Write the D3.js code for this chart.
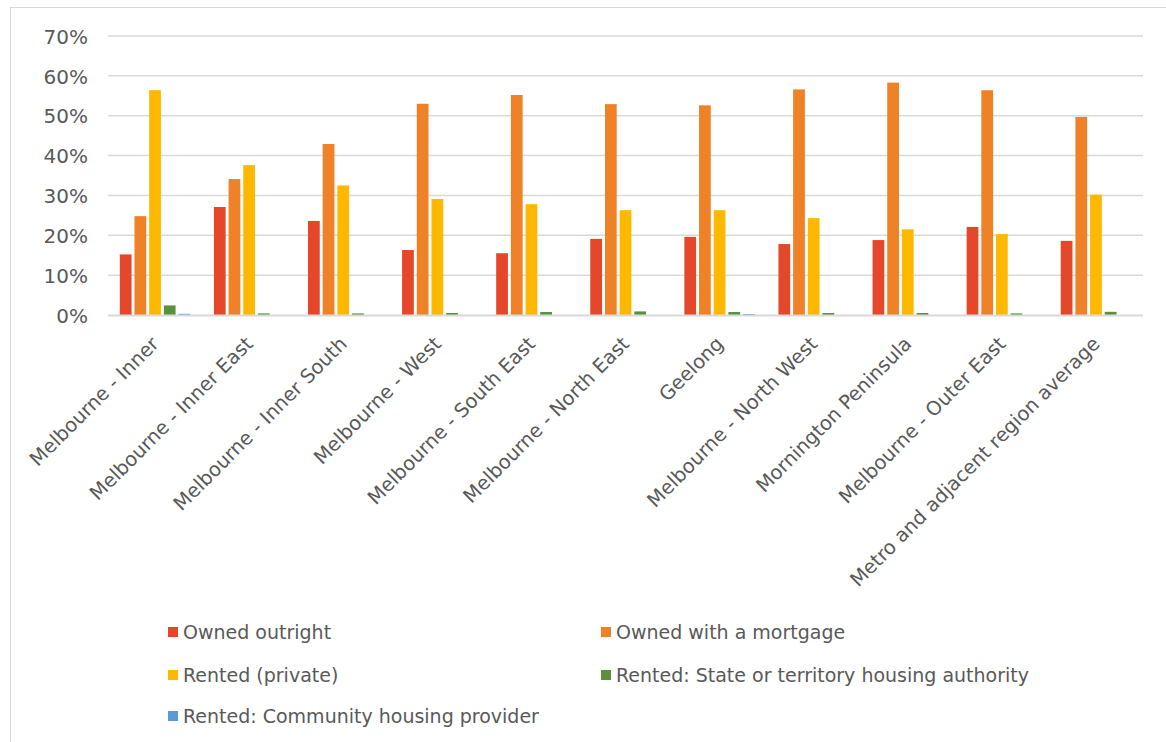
<!DOCTYPE html>
<html>
<head>
<meta charset="utf-8">
<script src="https://d3js.org/d3.v7.min.js"></script>
<style>
  html, body { margin: 0; padding: 0; background: #fff; }
  svg { display: block; font-family: "DejaVu Sans", sans-serif; }
</style>
</head>
<body>
<div id="chart"></div>
<script>
const regions = [
  'Melbourne - Inner', 'Melbourne - Inner East', 'Melbourne - Inner South',
  'Melbourne - West', 'Melbourne - South East', 'Melbourne - North East',
  'Geelong', 'Melbourne - North West', 'Mornington Peninsula',
  'Melbourne - Outer East', 'Metro and adjacent region average'
];
const seriesNames = [
  'Owned outright', 'Owned with a mortgage', 'Rented (private)',
  'Rented: State or territory housing authority', 'Rented: Community housing provider'
];
const ownedOutright = [15.2, 27.1, 23.6, 16.3, 15.5, 19.1, 19.6, 17.8, 18.8, 22.1, 18.6];
const ownedMortgage = [24.8, 34.1, 42.9, 53.0, 55.2, 52.9, 52.6, 56.6, 58.3, 56.4, 49.7];
const rentedPrivate = [56.4, 37.6, 32.5, 29.1, 27.8, 26.3, 26.3, 24.3, 21.5, 20.3, 30.2];
const rentedState = [2.4, 0.4, 0.4, 0.5, 0.75, 0.9, 0.75, 0.5, 0.5, 0.4, 0.8];
const rentedCommunity = [0.3, 0, 0, 0, 0, 0, 0.25, 0, 0, 0, 0];
const yTicks = [0, 10, 20, 30, 40, 50, 60, 70];
const colors = ['#E5472A', '#EF8126', '#FFB800', '#5B913D', '#5B9BD5'];

const series = [ownedOutright, ownedMortgage, rentedPrivate, rentedState, rentedCommunity];

const W = 1166, H = 742;
const svg = d3.select('#chart').append('svg').attr('width', W).attr('height', H);

// outer chart border
svg.append('rect')
  .attr('x', 10.5).attr('y', 7.5).attr('width', W).attr('height', H)
  .attr('fill', 'none').attr('stroke', '#D9D9D9').attr('stroke-width', 1);

const x = d3.scaleBand().domain(regions).range([108, 1143]).paddingInner(0.22).paddingOuter(0.11);
const xs = d3.scaleBand().domain(d3.range(5)).range([0, x.bandwidth()]).paddingInner(0.2).paddingOuter(0.1);
const y = d3.scaleLinear().domain([0, 70]).range([315, 36]);

// gridlines
svg.append('g').selectAll('line').data(yTicks.filter(d => d > 0)).enter().append('line')
  .attr('x1', 108).attr('x2', 1143)
  .attr('y1', d => y(d)).attr('y2', d => y(d))
  .attr('stroke', '#D9D9D9').attr('stroke-width', 1.5);

// y axis labels
const yAxis = d3.axisLeft(y).tickValues(yTicks).tickFormat(d => d + '%').tickSize(0).tickPadding(0);
const yg = svg.append('g').attr('transform', 'translate(88,0)').call(yAxis);
yg.select('.domain').remove();
yg.selectAll('text').attr('fill', '#595959').style('font-size', '20px')
  .style('font-family', '"DejaVu Sans", sans-serif').attr('dy', '0.36em');

// bars
const groups = svg.append('g').selectAll('g').data(regions).enter().append('g')
  .attr('transform', d => `translate(${x(d)},0)`);
groups.selectAll('rect')
  .data((d, i) => series.map((s, k) => ({ k, v: s[i] })))
  .enter().append('rect')
  .attr('x', d => xs(d.k))
  .attr('width', xs.bandwidth())
  .attr('y', d => y(d.v))
  .attr('height', d => y(0) - y(d.v))
  .attr('fill', d => colors[d.k]);

// baseline
svg.append('line')
  .attr('x1', 108).attr('x2', 1143).attr('y1', y(0) + 0.5).attr('y2', y(0) + 0.5)
  .attr('stroke', '#D9D9D9').attr('stroke-width', 2);

// x axis labels, rotated
const xAxis = d3.axisBottom(x).tickSize(0).tickPadding(0);
const xg = svg.append('g').attr('transform', 'translate(0,330)').call(xAxis);
xg.select('.domain').remove();
xg.selectAll('text')
  .attr('fill', '#595959')
  .style('font-size', '19.5px')
  .style('font-family', '"DejaVu Sans", sans-serif')
  .attr('text-anchor', 'end')
  .attr('y', 0).attr('dy', 0)
  .attr('transform', 'translate(5,15) rotate(-45)');

// legend
const legendPos = [[168, 632], [601, 632], [168, 675], [601, 675], [168, 716]];
const legend = svg.append('g').selectAll('g').data(seriesNames).enter().append('g')
  .attr('transform', (d, i) => `translate(${legendPos[i][0]},${legendPos[i][1]})`);
legend.append('rect').attr('x', 0).attr('y', -5).attr('width', 10).attr('height', 10)
  .attr('fill', (d, i) => colors[i]);
legend.append('text').attr('x', 15).attr('dy', '0.35em')
  .attr('fill', '#595959').style('font-size', '19px')
  .style('font-family', '"DejaVu Sans", sans-serif')
  .text(d => d);
</script>
</body>
</html>
